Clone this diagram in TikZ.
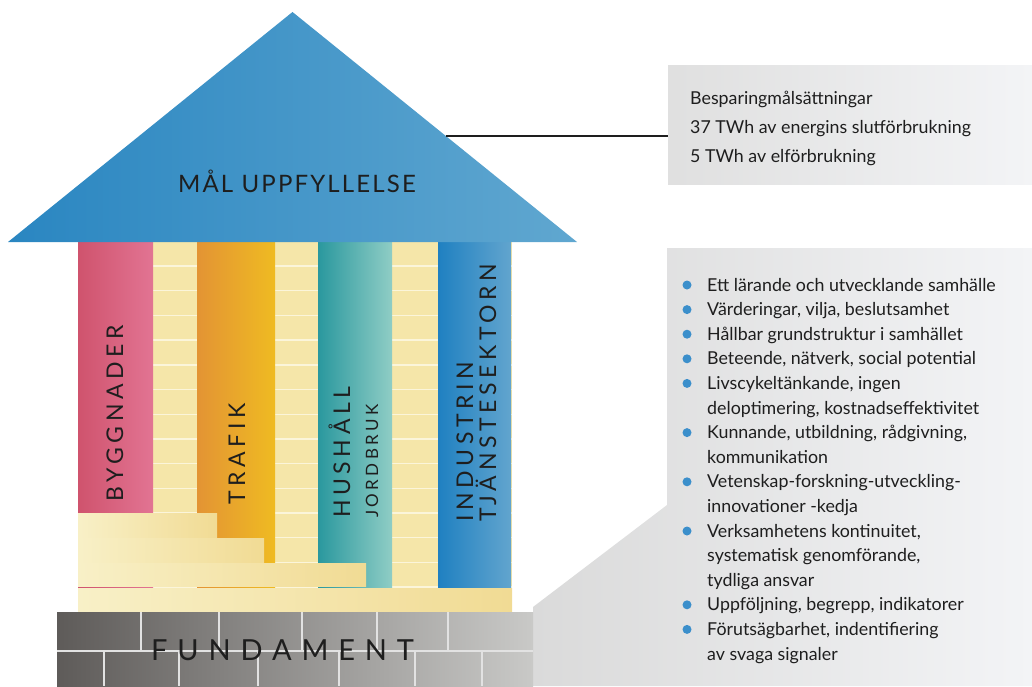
\documentclass[tikz,border=0pt]{standalone}
\usepackage{fontspec}
\setmainfont{Lato}
\newfontfamily\labelfont[LetterSpace=20]{Lato}
\newfontfamily\roofFont[LetterSpace=9]{Lato}
\newfontfamily\baseFont[LetterSpace=34]{Lato}

\definecolor{inktext}{HTML}{1E1E1E}
\definecolor{roofL}{HTML}{2A86C1}
\definecolor{roofR}{HTML}{60A7D0}
\definecolor{pinkL}{HTML}{CF536D}
\definecolor{pinkR}{HTML}{E27493}
\definecolor{orangeL}{HTML}{E39434}
\definecolor{orangeR}{HTML}{EFBB22}
\definecolor{tealL}{HTML}{2A989E}
\definecolor{tealR}{HTML}{8FCDC5}
\definecolor{blueL}{HTML}{1F80C1}
\definecolor{blueR}{HTML}{62A5CE}
\definecolor{cream}{HTML}{F5E6A9}
\definecolor{creamline}{HTML}{FBF5DA}
\definecolor{stepL}{HTML}{F8F0C7}
\definecolor{stepR}{HTML}{F1DB94}
\definecolor{stoneL}{HTML}{5E5B59}
\definecolor{stoneR}{HTML}{C9C9C7}
\definecolor{stoneline}{HTML}{E2E2E2}
\definecolor{panelL}{HTML}{DADADA}
\definecolor{panelR}{HTML}{F3F4F6}
\definecolor{dotblue}{HTML}{3B8FCB}

\tikzset{
  pillar/.style={shading=axis, left color=#1L, right color=#1R, draw=none},
  stepbar/.style={shading=axis, left color=stepL, right color=stepR, draw=none},
  vlabel/.style={rotate=90, anchor=base west, inner sep=0pt, text=inktext,
                 font=\labelfont\fontsize{23}{27}\selectfont},
  vsublabel/.style={vlabel, font=\labelfont\fontsize{17}{20}\selectfont},
  paneltext/.style={anchor=base west, inner sep=0pt, text=inktext,
                    font=\fontsize{17.8}{21}\selectfont},
  dot/.style={circle, fill=dotblue, inner sep=0pt, minimum size=9pt},
  joint/.style={stoneline, line width=1.6pt},
}

\begin{document}
\begin{tikzpicture}[x=1pt, y=-1pt]
\useasboundingbox (0,0) rectangle (1032,686);

% grey panel behind the list, stepping down beside the foundation
\shade[left color=panelL, right color=panelR]
  (667,248) -- (1032,248) -- (1032,686) -- (533,686) -- (533,607) -- (667,505) -- cycle;

% panel with the savings targets
\node (goals) [shading=axis, left color=panelL!85!white, right color=panelR,
  minimum width=364pt, minimum height=119pt, inner sep=0pt, anchor=north west]
  at (668,65) {};

% cream wall between the pillars, with its courses
\fill[cream] (78,242) rectangle (512,612);
\foreach \k in {0,...,13}
  \draw[creamline, line width=1.4pt] (78,{266+24.7*\k}) -- (512,{266+24.7*\k});

% the four pillars
\fill[pillar=pink]   (78,242)  rectangle (153,612);
\fill[pillar=orange] (197,242) rectangle (275,612);
\fill[pillar=teal]   (318,242) rectangle (392,612);
\fill[pillar=blue]   (438,242) rectangle (511,612);

% stairs at the foot of the pillars
\fill[stepbar] (78,513)   rectangle (217,537.2);
\fill[stepbar] (78,538.6) rectangle (264,562.2);
\fill[stepbar] (78,563.6) rectangle (366,586.6);
\fill[stepbar] (78,588)   rectangle (512,612);

% foundation of stone blocks
\fill[shading=axis, left color=stoneL, right color=stoneR] (57,612) rectangle (533,686);
\draw[joint] (57,651) -- (533,651);
\foreach \x in {141,219,302,377,448}
  \draw[joint] (\x,612) -- (\x,651);
\foreach \x in {104,179,258,339,415,482}
  \draw[joint] (\x,651) -- (\x,686);

% roof
\shade[left color=roofL, right color=roofR] (8,242) -- (292.5,12) -- (577,242) -- cycle;
\coordinate (roofedge) at (446,136);
\draw[inktext, line width=1.3pt] (roofedge) -- (roofedge -| goals.west);

% titles
\node (roof) [anchor=base, inner sep=0pt, text=inktext,
  font=\roofFont\fontsize{24}{28}\selectfont] at (297,192) {MÅL UPPFYLLELSE};
\node (base) [anchor=base west, inner sep=0pt, text=inktext,
  font=\baseFont\fontsize{29}{33}\selectfont] at (151,660) {FUNDAMENT};

% pillar labels
\node (bygg)  [vlabel] at (123,502) {BYGGNADER};
\node (traf)  [vlabel] at (245,505) {TRAFIK};
\node (hush)  [vlabel] at (350,518) {HUSHÅLL};
\node (jord)  [vsublabel] at (378,518) {JORDBRUK};
\node (indu)  [vlabel] at (473,522) {INDUSTRIN};
\node (tjan)  [vlabel] at (496,522) {TJÄNSTESEKTORN};

% savings targets
\node (g1) [paneltext] at (690,104) {Besparingmålsättningar};
\node (g2) [paneltext] at (690,133) {37 TWh av energins slutförbrukning};
\node (g3) [paneltext] at (690,162) {5 TWh av elförbrukning};

% list of foundations, one baseline every 24.6pt
\foreach \k/\txt in {0/Ett lärande och utvecklande samhälle,
                     1/{Värderingar, vilja, beslutsamhet},
                     2/Hållbar grundstruktur i samhället,
                     3/{Beteende, nätverk, social potential},
                     4/{Livscykeltänkande, ingen},
                     5/{deloptimering, kostnadseffektivitet},
                     6/{Kunnande, utbildning, rådgivning,},
                     7/kommunikation,
                     8/Vetenskap-forskning-utveckling-,
                     9/innovationer -kedja,
                     10/{Verksamhetens kontinuitet,},
                     11/{systematisk genomförande,},
                     12/tydliga ansvar,
                     13/{Uppföljning, begrepp, indikatorer},
                     14/{Förutsägbarhet, indentifiering},
                     15/av svaga signaler}
  \node (item\k) [paneltext] at (707,{291+24.6*\k}) {\txt};

\foreach \k in {0,1,2,3,4,6,8,10,13,14}
  \node (dot\k) [dot] at (687,{285+24.6*\k}) {};
\end{tikzpicture}
\end{document}
